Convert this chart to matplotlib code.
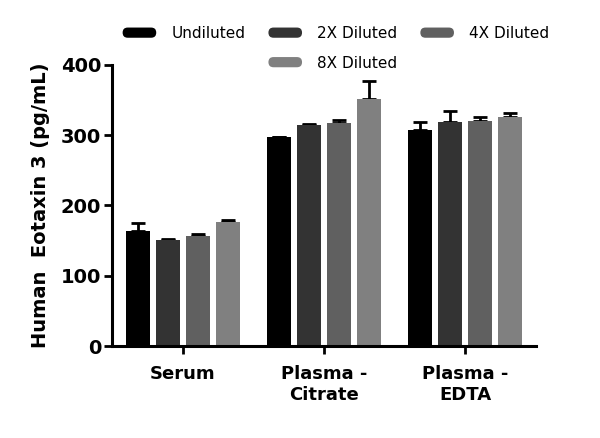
import matplotlib
matplotlib.use("Agg")
from matplotlib import pyplot as plt
from matplotlib.patches import Patch, FancyBboxPatch
from matplotlib.legend_handler import HandlerPatch
import numpy as np

groups = ["Serum", "Plasma -\nCitrate", "Plasma -\nEDTA"]
series = ["Undiluted", "2X Diluted", "4X Diluted", "8X Diluted"]
colors = ["#000000", "#333333", "#606060", "#808080"]

undiluted = [163, 297, 307]
diluted_2x = [151, 315, 318]
diluted_4x = [157, 317, 320]
diluted_8x = [177, 352, 326]

err_undiluted = [12, 0.5, 12]
err_2x = [1.5, 1, 16]
err_4x = [2, 4, 6]
err_8x = [2, 25, 6]

values = [undiluted, diluted_2x, diluted_4x, diluted_8x]
errors = [err_undiluted, err_2x, err_4x, err_8x]


class RoundHandler(HandlerPatch):
    def create_artists(self, legend, orig, xd, yd, w, h, fs, trans):
        p = FancyBboxPatch((-xd, -yd), w, h,
                           boxstyle="round,pad=0,rounding_size=%f" % (h / 2),
                           facecolor=orig.get_facecolor(),
                           edgecolor="none", transform=trans)
        return [p]


fig = plt.figure(figsize=(6, 4.38), dpi=100)
ax = fig.add_axes([0.187, 0.21, 0.706, 0.642])

x = np.arange(len(groups))
step = 0.213
width = 0.17
handles = []
for i, (vals, errs) in enumerate(zip(values, errors)):
    pos = x + (i - 1.5) * step
    ax.bar(pos, vals, width, color=colors[i], zorder=2)
    ax.errorbar(pos, vals, yerr=[np.zeros(len(errs)), errs], fmt="none",
                ecolor="black", elinewidth=2, capsize=5, capthick=2, zorder=1)
    handles.append(Patch(facecolor=colors[i], label=series[i]))

ax.set_xlim(-0.5, 2.5)
ax.set_ylim(0, 400)
ax.set_yticks([0, 100, 200, 300, 400])
ax.set_xticks(x)
ax.set_xticklabels(groups, fontsize=13, fontweight="bold")
for lab in ax.get_yticklabels():
    lab.set_fontsize(14)
    lab.set_fontweight("bold")
ax.set_ylabel("Human  Eotaxin 3 (pg/mL)", fontsize=14, fontweight="bold", labelpad=8)

for s in ["top", "right"]:
    ax.spines[s].set_visible(False)
for s in ["left", "bottom"]:
    ax.spines[s].set_linewidth(2.2)
ax.tick_params(axis="y", width=2, length=6, pad=2)
ax.tick_params(axis="x", width=2, length=6, pad=8)

blank = Patch(facecolor="none", edgecolor="none", label="")
leg_handles = [handles[0], blank, handles[1], handles[3], handles[2], blank]
leg_labels = [series[0], "", series[1], series[3], series[2], ""]
fig.legend(leg_handles, leg_labels, ncol=3, loc="upper center",
           bbox_to_anchor=(0.56, 0.972), frameon=False, fontsize=11,
           handlelength=2.2, handleheight=0.65, columnspacing=1.5,
           labelspacing=0.95, handletextpad=1.0,
           handler_map={Patch: RoundHandler()})

fig.savefig("out.png", dpi=100)
